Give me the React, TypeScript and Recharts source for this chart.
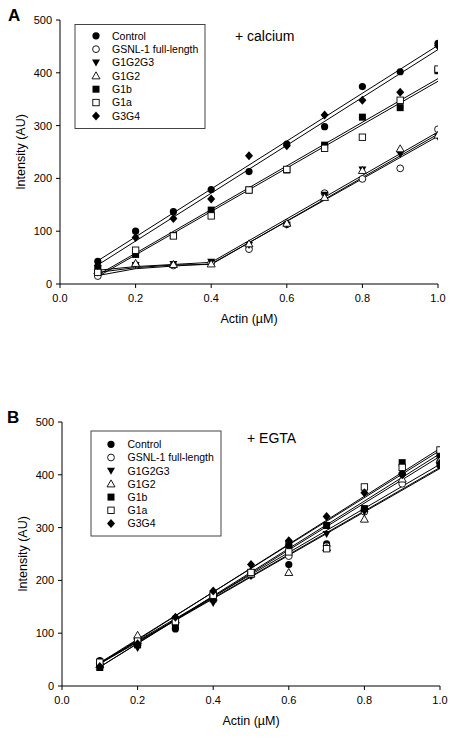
import React from 'react';
import { ComposedChart, Scatter, XAxis, YAxis } from 'recharts';

// ---------- data ----------
const actin = [0.1, 0.2, 0.3, 0.4, 0.5, 0.6, 0.7, 0.8, 0.9, 1.0];
const xTicks = [0, 0.2, 0.4, 0.6, 0.8, 1.0];
const yTicks = [0, 100, 200, 300, 400, 500];
const seriesNames = ['Control', 'GSNL-1 full-length', 'G1G2G3', 'G1G2', 'G1b', 'G1a', 'G3G4'];

// Panel A: + calcium
const caControl = [43, 100, 137, 179, 213, 265, 298, 374, 402, 456];
const caGsnl = [15, 36, 35, 40, 66, 113, 172, 199, 219, 293];
const caG1G2G3 = [22, 36, 38, 42, 74, 112, 169, 217, 246, 279];
const caG1G2 = [25, 39, 37, 38, 76, 115, 164, 215, 256, 282];
const caG1b = [28, 56, 92, 140, 178, 216, 263, 316, 334, 404];
const caG1a = [22, 64, 91, 129, 178, 217, 257, 278, 348, 407];
const caG3G4 = [35, 88, 124, 161, 243, 262, 320, 348, 363, 451];

const fitEndsX = [0.1, 1.0];
const fitBrokenX = [0.1, 0.2, 0.3, 0.4, 1.0];
const caControlFit = [44, 452];
const caG3G4Fit = [36, 444];
const caG1bFit = [17, 389];
const caG1aFit = [14, 384];
const caG1G2G3Fit = [26, 33, 37, 41, 288];
const caG1G2Fit = [22, 31, 36, 37, 284];
const caGsnlFit = [16, 29, 34, 38, 280];

// Panel B: + EGTA
const egControl = [48, 82, 108, 175, 212, 230, 269, 333, 402, 418];
const egGsnl = [42, 88, 128, 170, 210, 246, 265, 330, 383, 425];
const egG1G2G3 = [38, 72, 118, 157, 208, 262, 288, 330, 398, 432];
const egG1G2 = [40, 96, 125, 168, 212, 215, 262, 316, 392, 428];
const egG1b = [35, 78, 115, 165, 215, 268, 304, 336, 423, 438];
const egG1a = [45, 85, 122, 172, 215, 254, 260, 377, 414, 447];
const egG3G4 = [37, 80, 130, 180, 230, 275, 321, 366, 400, 422];

const egControlFit = [42, 412];
const egGsnlFit = [44, 420];
const egG1G2G3Fit = [36, 435];
const egG1G2Fit = [43, 414];
const egG1bFit = [36, 440];
const egG1aFit = [42, 450];
const egG3G4Fit = [44, 446];

// ---------- helpers ----------
const zip = (xs: number[], ys: number[]) => xs.map((x, i) => ({ x, y: ys[i] }));

const FONT = '"Liberation Sans", Arial, sans-serif';

type Kind = 'fc' | 'oc' | 'dt' | 'ut' | 'fs' | 'os' | 'fd';
const kinds: Kind[] = ['fc', 'oc', 'dt', 'ut', 'fs', 'os', 'fd'];

function Marker({ kind, cx, cy }: { kind: Kind; cx: number; cy: number }) {
  const sw = 0.9;
  switch (kind) {
    case 'fc':
      return <circle cx={cx} cy={cy} r={3.6} fill="#000" />;
    case 'oc':
      return <circle cx={cx} cy={cy} r={3.4} fill="#fff" stroke="#000" strokeWidth={sw} />;
    case 'dt':
      return <polygon points={`${cx - 4},${cy - 3} ${cx + 4},${cy - 3} ${cx},${cy + 4}`} fill="#000" />;
    case 'ut':
      return (
        <polygon
          points={`${cx},${cy - 4} ${cx - 4},${cy + 3} ${cx + 4},${cy + 3}`}
          fill="#fff"
          stroke="#000"
          strokeWidth={sw}
        />
      );
    case 'fs':
      return <rect x={cx - 3.5} y={cy - 3.5} width={7} height={7} fill="#000" />;
    case 'os':
      return <rect x={cx - 3.2} y={cy - 3.2} width={6.4} height={6.4} fill="#fff" stroke="#000" strokeWidth={sw} />;
    case 'fd':
      return <polygon points={`${cx},${cy - 4.5} ${cx + 4},${cy} ${cx},${cy + 4.5} ${cx - 4},${cy}`} fill="#000" />;
  }
  return null;
}

const shapeFor = (kind: Kind) => (props: any) => <Marker kind={kind} cx={props.cx} cy={props.cy} />;
const noShape = () => <g />;

interface PanelProps {
  points: number[][];
  fits: { xs: number[]; ys: number[] }[];
  margin: { top: number; right: number; left: number; bottom: number };
}

function Panel({ points, fits, margin }: PanelProps) {
  const tickStyle = { fill: '#000', fontSize: 11, fontFamily: FONT };
  return (
    <ComposedChart width={456} height={340} margin={margin}>
      <XAxis
        type="number"
        dataKey="x"
        domain={[0, 1]}
        ticks={xTicks}
        tickFormatter={(v: number) => v.toFixed(1)}
        stroke="#000"
        tick={tickStyle}
        tickSize={4}
        tickMargin={6}
        height={30}
        allowDataOverflow
        label={{
          value: 'Actin (\u00b5M)',
          position: 'bottom',
          offset: 0,
          style: { fill: '#000', fontSize: 12.5, fontFamily: FONT },
        }}
      />
      <YAxis
        type="number"
        dataKey="y"
        domain={[0, 500]}
        ticks={yTicks}
        stroke="#000"
        tick={tickStyle}
        tickSize={4}
        tickMargin={4}
        width={45}
        allowDataOverflow
        label={{
          value: 'Intensity (AU)',
          angle: -90,
          position: 'center',
          dx: -17,
          style: { fill: '#000', fontSize: 12.5, fontFamily: FONT },
        }}
      />
      {fits.map((f, i) => (
        <Scatter
          key={'fit' + i}
          data={zip(f.xs, f.ys)}
          line={{ stroke: '#000', strokeWidth: 1 }}
          shape={noShape}
          isAnimationActive={false}
        />
      ))}
      {points.map((p, i) => (
        <Scatter key={'pt' + i} data={zip(actin, p)} shape={shapeFor(kinds[i])} isAnimationActive={false} />
      ))}
    </ComposedChart>
  );
}

function LegendBox({ x, y, w, h, mx, tx, y0, dy }: any) {
  return (
    <g>
      <rect x={x} y={y} width={w} height={h} fill="#fff" stroke="#444" strokeWidth={1} />
      {seriesNames.map((n, i) => (
        <g key={n}>
          <Marker kind={kinds[i]} cx={mx} cy={y0 + i * dy} />
          <text x={tx} y={y0 + i * dy + 3.8} fontSize={10.5} fontFamily={FONT} fill="#000">
            {n}
          </text>
        </g>
      ))}
    </g>
  );
}

export default function App() {
  const caPoints = [caControl, caGsnl, caG1G2G3, caG1G2, caG1b, caG1a, caG3G4];
  const caFits = [
    { xs: fitEndsX, ys: caControlFit },
    { xs: fitEndsX, ys: caG3G4Fit },
    { xs: fitEndsX, ys: caG1bFit },
    { xs: fitEndsX, ys: caG1aFit },
    { xs: fitBrokenX, ys: caG1G2G3Fit },
    { xs: fitBrokenX, ys: caG1G2Fit },
    { xs: fitBrokenX, ys: caGsnlFit },
  ];
  const egPoints = [egControl, egGsnl, egG1G2G3, egG1G2, egG1b, egG1a, egG3G4];
  const egFits = [
    { xs: fitEndsX, ys: egControlFit },
    { xs: fitEndsX, ys: egGsnlFit },
    { xs: fitEndsX, ys: egG1G2G3Fit },
    { xs: fitEndsX, ys: egG1G2Fit },
    { xs: fitEndsX, ys: egG1bFit },
    { xs: fitEndsX, ys: egG1aFit },
    { xs: fitEndsX, ys: egG3G4Fit },
  ];
  return (
    <div style={{ position: 'absolute', left: 0, top: 0, width: 456, height: 740, background: '#fff' }}>
      <div style={{ position: 'absolute', left: 0, top: 0 }}>
        <Panel points={caPoints} fits={caFits} margin={{ top: 20, right: 18, left: 15, bottom: 26 }} />
      </div>
      <div style={{ position: 'absolute', left: 0, top: 400 }}>
        <Panel points={egPoints} fits={egFits} margin={{ top: 22, right: 16, left: 17, bottom: 24 }} />
      </div>
      <svg
        width={456}
        height={740}
        style={{ position: 'absolute', left: 0, top: 0, pointerEvents: 'none' }}
      >
        <text x={8} y={21} fontSize={17} fontWeight="bold" fontFamily={FONT} fill="#000">
          A
        </text>
        <text x={7} y={423} fontSize={17} fontWeight="bold" fontFamily={FONT} fill="#000">
          B
        </text>
        <text x={235} y={41} fontSize={14} fontFamily={FONT} fill="#000">
          + calcium
        </text>
        <text x={247} y={443} fontSize={14} fontFamily={FONT} fill="#000">
          + EGTA
        </text>
        <LegendBox x={75} y={24.5} w={130} h={104} mx={96} tx={112} y0={35.8} dy={13.35} />
        <LegendBox x={91} y={431} w={130} h={105} mx={111} tx={127.5} y0={444.3} dy={13.2} />
      </svg>
    </div>
  );
}
